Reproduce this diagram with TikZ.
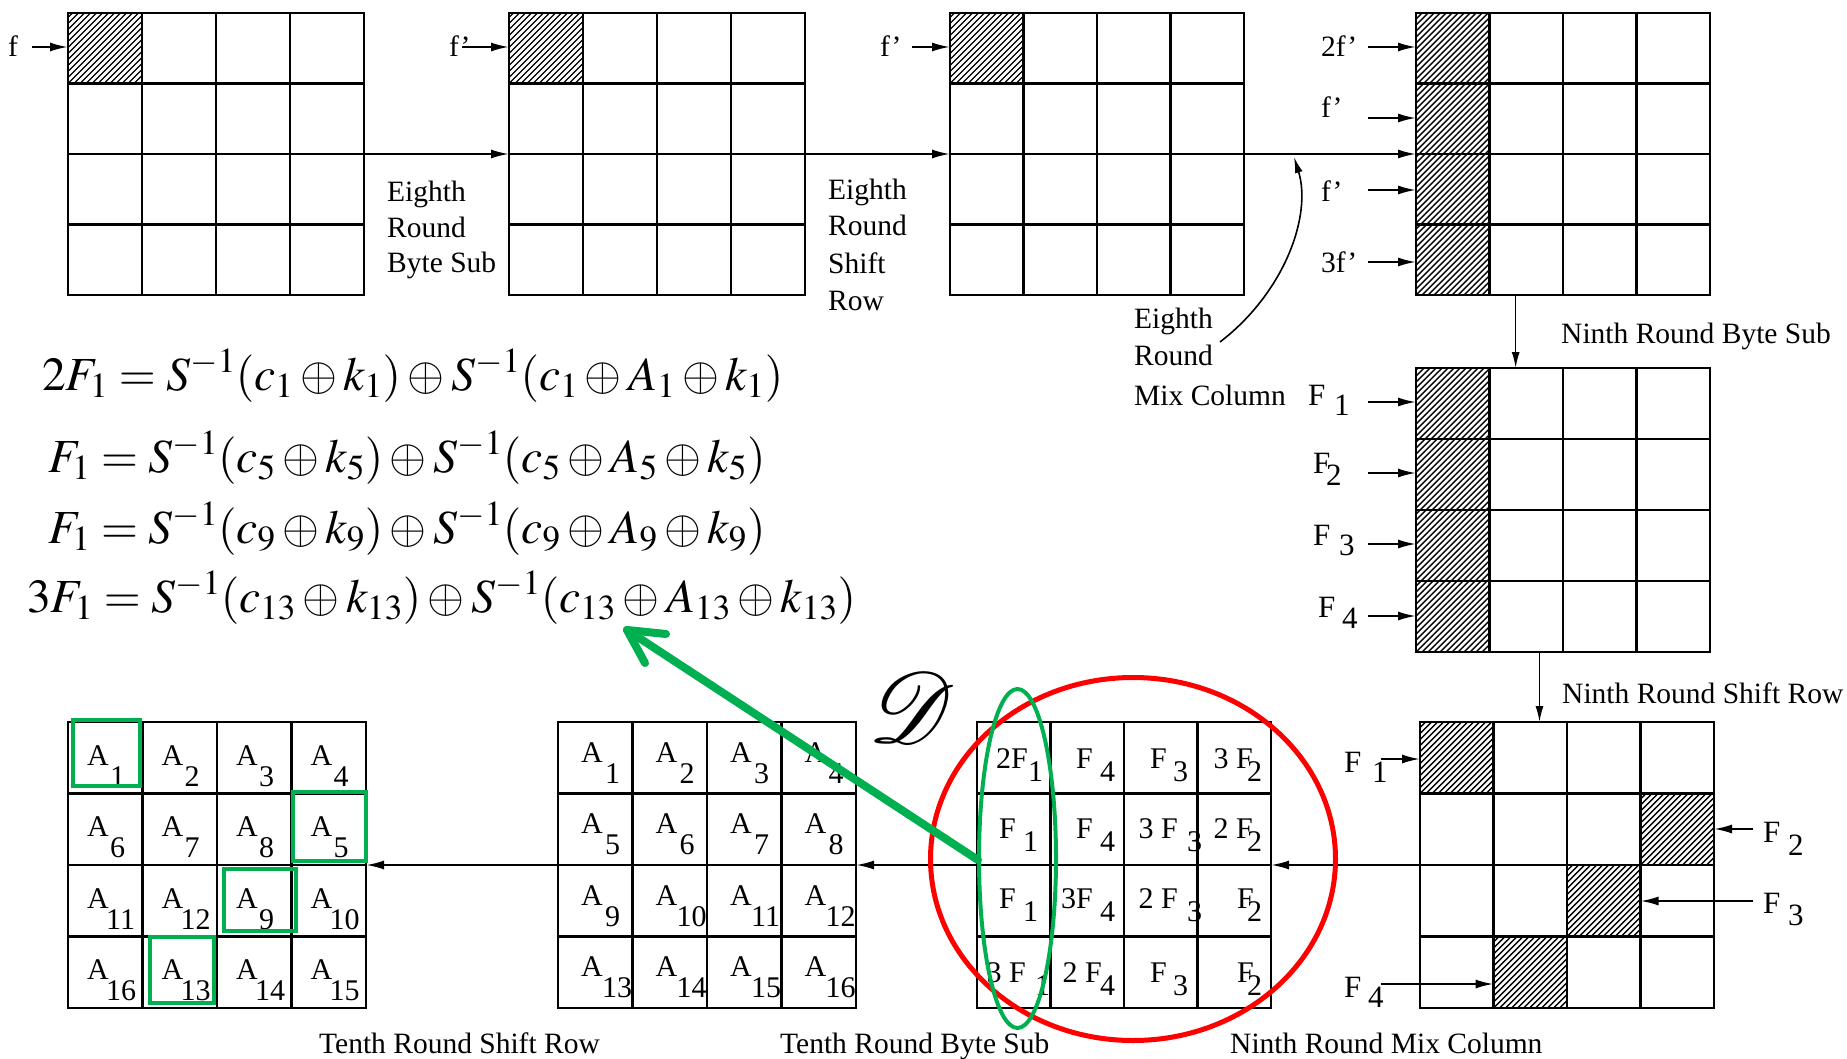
\documentclass[tikz,border=0pt]{standalone}
\usepackage{mathptmx}
\usepackage{mathrsfs}
\usepackage{graphicx}
\usepackage[no-math]{fontspec}
\setmainfont{Liberation Serif}
\usetikzlibrary{arrows.meta,calc}
\definecolor{pgreen}{RGB}{0,176,80}
\definecolor{pred}{RGB}{255,0,0}
\newcommand\lblfont{\fontsize{29.5}{36}\selectfont}
\newcommand\cellfont{\fontsize{30}{36}\selectfont}
\newcommand\flfont{\fontsize{31}{36}\selectfont}
\newcommand\eqfont{\fontsize{47.5}{56}\selectfont}
\newcommand\hatchbox[4]{%
  \begin{scope}
    \clip (#1,#2) rectangle (#3,#4);
    \foreach \k in {-300,-294,...,84} {\draw[hatchline] (#1+\k,#4) -- ++(300,-300);}
  \end{scope}}
\newcommand\gridlines[1]{%
  \foreach \t in {0.25,0.5,0.75} {
    \draw[gridline] ($(#1.north west)!\t!(#1.north east)$) -- ($(#1.south west)!\t!(#1.south east)$);
    \draw[gridline] ($(#1.north west)!\t!(#1.south west)$) -- ($(#1.north east)!\t!(#1.south east)$);
  }}
\begin{document}
\begin{tikzpicture}[x=1pt,y=-1pt,
  gridnode/.style={draw, line width=2.6pt, inner sep=0pt, outer sep=0pt, anchor=north west},
  gridline/.style={line width=2.6pt},
  hatchline/.style={line width=1.4pt},
  arr/.style={line width=2pt, -{Latex[length=18pt,width=9pt]}},
  thinarr/.style={line width=1.6pt, -{Latex[length=16pt,width=8pt]}},
  lbl/.style={inner sep=0pt, font=\lblfont, anchor=base west},
  ctxt/.style={inner sep=0pt, font=\cellfont},
  flbl/.style={inner sep=0pt, font=\flfont, anchor=base west},
  eq/.style={inner sep=0pt, font=\eqfont, anchor=base west},
  gbox/.style={draw=pgreen, line width=4pt},
]
\useasboundingbox (0,0) rectangle (1847,1059);
\fill[white] (0,0) rectangle (1847,1059);

% ---------- hatching ----------
\hatchbox{68}{13}{142}{83.5}
\hatchbox{509}{13}{583}{83.5}
\hatchbox{950}{13}{1023.5}{83.5}
\hatchbox{1416}{13}{1489.5}{295}
\hatchbox{1416}{368}{1489.5}{652}
\hatchbox{1420}{722}{1493.5}{793.5}
\hatchbox{1640.5}{793.5}{1714}{865}
\hatchbox{1567}{865}{1640.5}{936.5}
\hatchbox{1493.5}{936.5}{1567}{1008}

% ---------- grids ----------
\node[gridnode, minimum width=296pt, minimum height=282pt] (g1) at (68,13) {};
\node[gridnode, minimum width=296pt, minimum height=282pt] (g2) at (509,13) {};
\node[gridnode, minimum width=294pt, minimum height=282pt] (g3) at (950,13) {};
\node[gridnode, minimum width=294pt, minimum height=282pt] (g4) at (1416,13) {};
\node[gridnode, minimum width=294pt, minimum height=284pt] (g5) at (1416,368) {};
\node[gridnode, minimum width=294pt, minimum height=286pt] (g6) at (1420,722) {};
\node[gridnode, minimum width=294pt, minimum height=286pt] (g7) at (977,722) {};
\node[gridnode, minimum width=298pt, minimum height=286pt] (g8) at (558,722) {};
\node[gridnode, minimum width=298pt, minimum height=286pt] (g9) at (68,722) {};
\foreach \g in {g1,g2,g3,g4,g5,g6,g7,g8,g9} {\gridlines{\g}}

% ---------- top row inputs ----------
\node[lbl] (lf1) at (8,57) {f};
\coordinate (i1) at (32,47);
\draw[arr] (i1) -- (i1 -| g1.west);
\node[lbl] (lf2) at (449,57) {f'};
\coordinate (i2) at (462,47);
\draw[arr] (i2) -- (i2 -| g2.west);
\node[lbl] (lf3) at (880,57) {f'};
\coordinate (i3) at (912,47);
\draw[arr] (i3) -- (i3 -| g3.west);

\draw[arr] (g1.east) -- (g2.west);
\draw[arr] (g2.east) -- (g3.west);
\draw[arr] (g3.east) -- (g4.west);

\node[lbl] (l4a) at (1321,57) {2f'};
\node[lbl] (l4b) at (1321,118) {f'};
\node[lbl] (l4c) at (1321,202) {f'};
\node[lbl] (l4d) at (1321,273) {3f'};
\coordinate (j1) at (1368,47);
\coordinate (j2) at (1368,118);
\coordinate (j3) at (1368,190);
\coordinate (j4) at (1368,262);
\foreach \j in {j1,j2,j3,j4} {\draw[arr] (\j) -- (\j -| g4.west);}

\node[lbl] (t1a) at (387,202) {Eighth};
\node[lbl] (t1b) at (387,238) {Round};
\node[lbl] (t1c) at (387,273) {Byte Sub};
\node[lbl] (t2a) at (828,200) {Eighth};
\node[lbl] (t2b) at (828,236) {Round};
\node[lbl] (t2c) at (828,274) {Shift};
\node[lbl] (t2d) at (828,310) {Row};
\node[lbl] (t3a) at (1134,328) {Eighth};
\node[lbl] (t3b) at (1134,365) {Round};
\node[lbl] (t3c) at (1134,405) {Mix Column};
\coordinate (cs) at (1220,342);
\coordinate (ct) at (1294,157);
\draw[thinarr] (cs) .. controls (1285,292) and (1312,215) .. (ct);

% ---------- ninth round byte sub ----------
\node[lbl] (t4) at (1561,343) {Ninth Round Byte Sub};
\coordinate (v1) at ($(g4.south west)!0.339!(g4.south east)$);
\draw[thinarr] (v1) -- (v1 |- g5.north);

\node[flbl] (p1) at (1308,405) {F};  \node[flbl] (p1s) at (1334,415) {1};
\node[flbl] (p2) at (1313,473) {F};  \node[flbl] (p2s) at (1326,485) {2};
\node[flbl] (p3) at (1313,545) {F};  \node[flbl] (p3s) at (1339,555) {3};
\node[flbl] (p4) at (1318,617) {F};  \node[flbl] (p4s) at (1342,628) {4};
\coordinate (k1) at (1368,402);
\coordinate (k2) at (1368,473);
\coordinate (k3) at (1368,544);
\coordinate (k4) at (1368,616);
\foreach \k in {k1,k2,k3,k4} {\draw[arr] (\k) -- (\k -| g5.west);}

% ---------- ninth round shift row ----------
\node[lbl] (t5) at (1562,703) {Ninth Round Shift Row};
\coordinate (v2) at ($(g5.south west)!0.42!(g5.south east)$);
\draw[thinarr] (v2) -- (v2 |- g6.north);

\node[flbl] (q1) at (1344,772) {F};  \node[flbl] (q1s) at (1372,782) {1};
\coordinate (m1) at (1381,759);
\draw[arr] (m1) -- (m1 -| g6.west);
\node[flbl] (q2) at (1763,842) {F};  \node[flbl] (q2s) at (1788,855) {2};
\coordinate (m2) at (1753,829);
\draw[arr] (m2) -- (m2 -| g6.east);
\node[flbl] (q3) at (1763,913) {F};  \node[flbl] (q3s) at (1788,925) {3};
\coordinate (m3) at (1753,901);
\coordinate (m3e) at (1640.5,901);
\draw[arr] (m3) -- (m3e);
\node[flbl] (q4) at (1344,997) {F};  \node[flbl] (q4s) at (1368,1007) {4};
\coordinate (m4) at (1381,984);
\coordinate (m4e) at (1493.5,984);
\draw[arr] (m4) -- (m4e);

% ---------- bottom flow ----------
\draw[arr] (g6.west) -- (g7.east);
\draw[arr] (g7.west) -- (g8.east);
\draw[arr] (g8.west) -- (g9.east);

\node[lbl] (b1) at (319,1053) {Tenth Round Shift Row};
\node[lbl] (b2) at (780,1053) {Tenth Round Byte Sub};
\node[lbl] (b3) at (1230,1053) {Ninth Round Mix Column};

% ---------- grid 7 cell contents ----------
\foreach \nm/\mb/\m/\mx/\s/\sx in {
  c00/768/2F/1028/1/1028, c01/768/F/1093/4/1100, c02/768/F/1167/3/1173, c03/768/3 F/1253/2/1247,
  c10/838/F/1016/1/1023, c11/838/F/1093/4/1100, c12/838/3 F/1178/3/1187, c13/838/2 F/1253/2/1247,
  c20/908/F/1016/1/1023, c21/908/3F/1093/4/1100, c22/908/2 F/1178/3/1187, c23/908/F/1254/2/1247,
  c30/982/3 F/1026/1/1035, c31/982/2 F/1102/4/1100, c32/982/F/1167/3/1173, c33/982/F/1254/2/1247} {
  \node[ctxt, anchor=base east] (\nm m) at (\mx,\mb) {\m};
  \node[ctxt, anchor=base west] (\nm s) at (\sx,\mb+13) {\s};
}

% ---------- grid 9 (tenth round shift row) ----------
\foreach \n [count=\i from 0] in {1,2,3,4,6,7,8,5,11,12,9,10,16,13,14,15} {
  \pgfmathtruncatemacro\r{int(\i/4)}
  \pgfmathtruncatemacro\c{mod(\i,4)}
  \pgfmathsetmacro\dx{\n>9 ? 38 : 42}
  \node[ctxt, anchor=base west] (u\n a) at (68+\c*74.5+19, 722+\r*71.5+43) {A};
  \node[ctxt, anchor=base west] (u\n n) at (68+\c*74.5+\dx, 722+\r*71.5+64) {\n};
}
% ---------- grid 8 (tenth round byte sub) ----------
\foreach \n [count=\i from 0] in {1,...,16} {
  \pgfmathtruncatemacro\r{int(\i/4)}
  \pgfmathtruncatemacro\c{mod(\i,4)}
  \pgfmathsetmacro\dx{\n>9 ? 44 : 47}
  \node[ctxt, anchor=base west] (w\n a) at (558+\c*74.5+23, 722+\r*71.5+40) {A};
  \node[ctxt, anchor=base west] (w\n n) at (558+\c*74.5+\dx, 722+\r*71.5+61) {\n};
}

% ---------- green boxes ----------
\draw[gbox] (73,720) rectangle (140,786);
\draw[gbox] (293,792) rectangle (366,861);
\draw[gbox] (224,869) rectangle (296,931);
\draw[gbox] (150,937) rectangle (214,1003);

% ---------- equations ----------
\node[eq] (eq1) at (42,390) {$2F_1 = S^{-1}(c_1 \oplus k_1) \oplus S^{-1}(c_1 \oplus A_1 \oplus k_1)$};
\node[eq] (eq2) at (48,472) {$F_1 = S^{-1}(c_5 \oplus k_5) \oplus S^{-1}(c_5 \oplus A_5 \oplus k_5)$};
\node[eq] (eq3) at (48,543) {$F_1 = S^{-1}(c_9 \oplus k_9) \oplus S^{-1}(c_9 \oplus A_9 \oplus k_9)$};
\node[eq] (eq4) at (27,612) {$3F_1 = S^{-1}(c_{13} \oplus k_{13}) \oplus S^{-1}(c_{13} \oplus A_{13} \oplus k_{13})$};

% ---------- ellipses, D, green arrow ----------
\draw[pred, line width=5pt] (1133,859) ellipse [x radius=202.5pt, y radius=181.5pt];
\draw[pgreen, line width=4pt] (1017.5,858.5) ellipse [x radius=38.5pt, y radius=169.5pt];
\node[inner sep=0pt] (dset) at (912,707) {\resizebox*{!}{70pt}{$\mathscr{D}$}};
\coordinate (gs) at (978,860);
\coordinate (gt) at (627,630);
\coordinate (gw1) at (666,634);
\coordinate (gw2) at (645,663);
\draw[pgreen, line width=8pt, line cap=round] (gs) -- (gt);
\draw[pgreen, line width=8pt, line cap=round, line join=round] (gw1) -- (gt) -- (gw2);
\end{tikzpicture}
\end{document}
